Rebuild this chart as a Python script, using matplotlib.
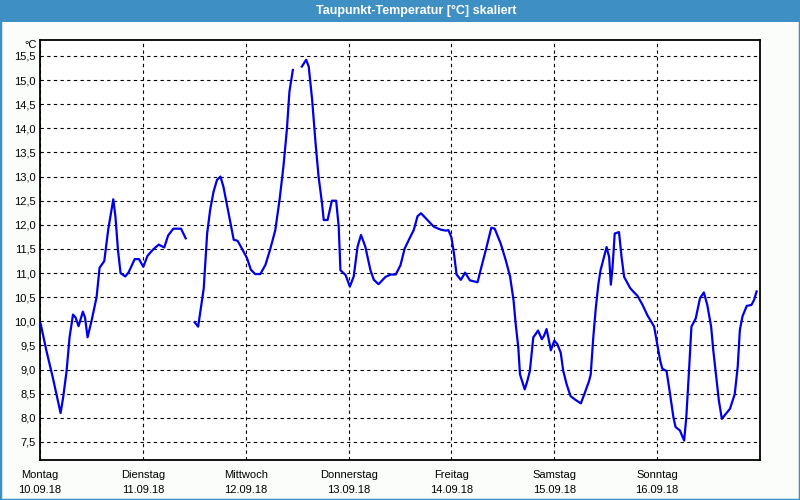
import numpy as np
import matplotlib
matplotlib.use("Agg")
import matplotlib.pyplot as plt

# hours since Monday 00:00 and dew point values (nan = gap in the record)
hours = [0.15, 1.5, 3.0, 4.2, 4.8, 5.4, 6.2, 6.9, 7.7, 8.3, 9.0, 10.0, 10.5, 11.1, 12.0, 13.2,
         13.9, 15.0, 15.9, 17.1, 17.6, 18.2, 18.8, 19.9, 20.7, 22.1, 23.1, 24.1, 25.1, 26.4,
         27.7, 29.0, 29.9, 31.1, 32.9, 34.0, 35.0,
         36.1, 36.9, 38.2, 39.0, 39.7, 40.5, 41.3, 42.1, 42.8, 44.0, 45.2, 46.1, 47.1, 48.3,
         49.2, 50.2, 51.4, 52.6, 53.7, 54.9, 55.9, 56.8, 57.6, 58.2, 59.0, 60.0,
         61.1, 62.1, 62.7, 63.5, 64.3, 65.0, 65.8, 66.2, 67.1, 68.1, 69.1, 69.7, 70.1, 71.3,
         72.3, 73.2, 74.1, 74.9, 75.9, 77.1, 77.9, 79.0, 80.6, 81.8, 83.0, 84.1, 85.1, 86.4,
         87.2, 88.1, 88.9, 90.3, 91.9, 93.5, 94.7, 95.3, 96.0, 96.6, 97.2, 98.2, 99.2, 100.3,
         102.1, 102.8, 104.2, 105.3, 106.1, 107.5, 108.7, 109.7, 110.5, 111.0, 111.6, 112.0,
         112.6, 113.1, 113.7, 114.3, 115.1, 115.7, 116.2, 117.1, 117.6, 118.2, 118.6, 119.2,
         120.0, 120.7, 121.5, 122.1, 122.9, 123.8, 125.0, 126.2, 127.0, 128.1, 128.5, 129.1,
         129.7, 130.3, 130.8, 131.5, 132.2, 132.8, 133.2, 133.6, 134.1, 135.1, 135.7, 136.3,
         137.7, 138.4, 139.4, 140.6, 141.7, 143.3, 144.0, 144.7, 145.2, 146.2, 147.0, 147.8,
         148.3, 149.3, 150.3, 150.8, 151.4, 152.0, 153.0, 154.0, 154.9, 155.7, 156.6, 157.1,
         157.7, 158.4, 159.1, 160.0, 161.0, 162.1, 162.8, 163.3, 163.9, 164.9, 166.0, 166.6,
         167.2]
taupunkt = [9.95, 9.39, 8.83, 8.35, 8.10, 8.42, 8.97, 9.67, 10.14, 10.08, 9.90, 10.20, 10.08, 9.67, 10.00, 10.50,
            11.11, 11.25, 11.89, 12.53, 12.17, 11.47, 11.00, 10.93, 11.02, 11.29, 11.29, 11.13, 11.36, 11.49,
            11.59, 11.53, 11.78, 11.92, 11.92, 11.72, np.nan,
            9.98, 9.89, 10.68, 11.82, 12.31, 12.69, 12.93, 13.00, 12.79, 12.24, 11.69, 11.67, 11.51, 11.31,
            11.07, 10.98, 10.98, 11.17, 11.49, 11.89, 12.52, 13.21, 13.97, 14.76, 15.21, np.nan,
            15.28, 15.42, 15.28, 14.59, 13.69, 13.00, 12.45, 12.10, 12.10, 12.50, 12.50, 11.96, 11.06, 10.96,
            10.72, 10.93, 11.55, 11.79, 11.55, 11.06, 10.86, 10.77, 10.92, 10.97, 10.97, 11.16, 11.51, 11.75,
            11.89, 12.18, 12.24, 12.11, 11.96, 11.90, 11.88, 11.89, 11.74, 11.40, 10.97, 10.86, 11.01, 10.85,
            10.81, 11.06, 11.54, 11.94, 11.92, 11.61, 11.26, 10.92, 10.43, 9.94, 9.46, 8.90,
            8.73, 8.59, 8.76, 8.97, 9.67, 9.74, 9.81, 9.63, 9.70, 9.84, 9.67, 9.40,
            9.60, 9.53, 9.35, 8.97, 8.69, 8.45, 8.37, 8.30, 8.49, 8.76, 8.90, 9.67,
            10.29, 10.78, 11.06, 11.30, 11.54, 11.33, 10.76, 11.13, 11.82, 11.85, 11.33, 10.92,
            10.69, 10.62, 10.53, 10.34, 10.13, 9.89, 9.54, 9.19, 9.02, 8.97, 8.50, 8.01,
            7.81, 7.74, 7.53, 8.01, 8.92, 9.89, 10.06, 10.48, 10.60, 10.34, 9.89, 9.40,
            8.92, 8.36, 7.98, 8.08, 8.19, 8.49, 9.06, 9.82, 10.10, 10.32, 10.34, 10.44,
            10.62]

tage = ["Montag", "Dienstag", "Mittwoch", "Donnerstag", "Freitag", "Samstag", "Sonntag"]
daten = ["10.09.18", "11.09.18", "12.09.18", "13.09.18", "14.09.18", "15.09.18", "16.09.18"]
y_ticks = [7.5, 8.0, 8.5, 9.0, 9.5, 10.0, 10.5, 11.0, 11.5, 12.0, 12.5, 13.0, 13.5, 14.0, 14.5, 15.0, 15.5]

blau_rahmen = "#3d8fc4"
fig = plt.figure(figsize=(8, 5), dpi=100, facecolor="#fbfdfb")

# window frame + title bar
fig.patches.append(plt.Rectangle((0, 0), 1, 1, transform=fig.transFigure, fill=False,
                                 edgecolor=blau_rahmen, linewidth=2.5))
fig.patches.append(plt.Rectangle((0, 1 - 22 / 500), 1, 22 / 500, transform=fig.transFigure,
                                 facecolor=blau_rahmen, edgecolor="none"))
fig.text(0.52, 1 - 10.5 / 500, "Taupunkt-Temperatur [°C] skaliert", color="white",
         fontsize=9, fontweight="bold", ha="center", va="center", family="Liberation Sans")

ax = fig.add_axes([40 / 800, 40 / 500, 720 / 800, 420 / 500])
ax.set_facecolor("white")
ax.plot(hours, taupunkt, color="#0000e6", linewidth=1.6, zorder=3)

ax.set_xlim(0, 168)
ax.set_ylim(7.127, 15.83)
ax.set_yticks(y_ticks)
ax.set_yticklabels([f"{v:.1f}".replace(".", ",") for v in y_ticks])
ax.set_xticks(range(0, 168, 24))
ax.set_xticklabels([f"{t}\n{d}" for t, d in zip(tage, daten)], linespacing=1.7)
ax.tick_params(length=0, labelsize=8, pad=3)
ax.tick_params(axis="x", pad=7)
for lab in ax.get_xticklabels() + ax.get_yticklabels():
    lab.set_family("Liberation Sans")

ax.grid(True, color="black", linestyle=(0, (3, 3)), linewidth=0.8)
for s in ax.spines.values():
    s.set_linewidth(1.3)

ax.text(-0.005, 1.0, "°C", transform=ax.transAxes, ha="right", va="top",
        fontsize=8, family="Liberation Sans")

fig.savefig("out.png", dpi=100, facecolor=fig.get_facecolor())
